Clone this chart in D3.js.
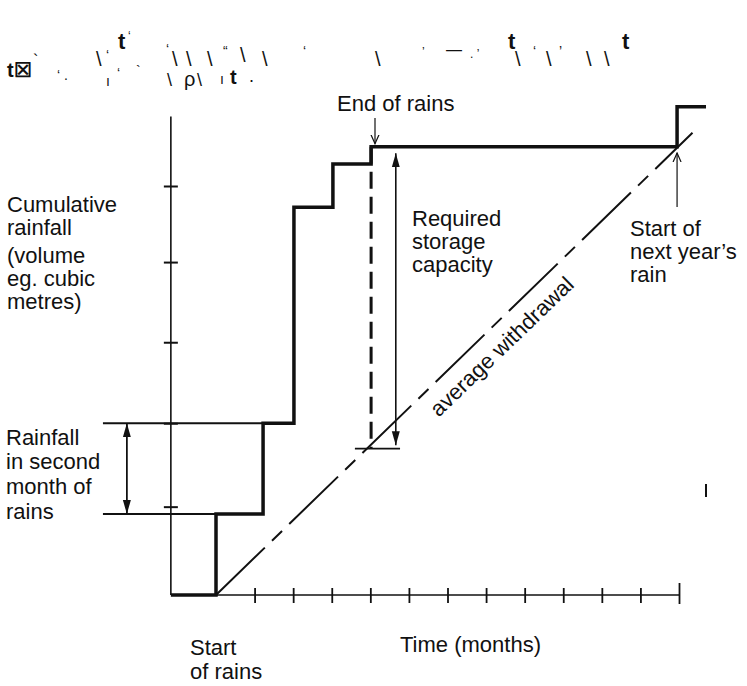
<!DOCTYPE html>
<html>
<head>
<meta charset="utf-8">
<script src="https://cdn.jsdelivr.net/npm/d3@7"></script>
<style>
  body { margin: 0; background: #fff; }
  text { font-family: "Liberation Sans", Arial, sans-serif; fill: #111; }
</style>
</head>
<body>
<div id="chart-area"></div>
<script>

// values (months on x, volume units on y)
var monthTicks = [1, 2, 3, 4, 5, 6, 7, 8, 9, 10, 11, 12];
var yTicks = [1.08, 2.1, 3.09, 4.07, 5];
var stepMonths = [0, 1.22, 2.02, 3.03, 4.02, 11.95];
var cumulative = [0.99, 2.1, 4.74, 5.27, 5.48, 5.97];
var axisMonth = -1.17;
var yAxisTop = 5.85;
var lastMonth = 12.7;
var withdrawalMonths = [0, 12.35];
var withdrawalValues = [0, 5.65];
var endOfRains = 4.02;
var secondMonth = [0.99, 2.1];
var storage = [5.4, 1.83];

var svgWidth = 747;
var svgHeight = 686;

var svg = d3.select("#chart-area")
            .append("svg")
            .attr("width", svgWidth)
            .attr("height", svgHeight);

var x = d3.scaleLinear().domain([0, 12]).range([216, 679]);
var y = d3.scaleLinear().domain([0, 5]).range([595, 186]);

var defs = svg.append("defs");
defs.append("marker")
    .attr("id", "solid")
    .attr("viewBox", "0 -5 14 10")
    .attr("refX", 14).attr("refY", 0)
    .attr("markerWidth", 14).attr("markerHeight", 10)
    .attr("markerUnits", "userSpaceOnUse")
    .attr("orient", "auto")
    .append("path").attr("d", "M0,-4L14,0L0,4Z").attr("fill", "#111");
defs.append("marker")
    .attr("id", "solidStart")
    .attr("viewBox", "0 -5 14 10")
    .attr("refX", 0).attr("refY", 0)
    .attr("markerWidth", 14).attr("markerHeight", 10)
    .attr("markerUnits", "userSpaceOnUse")
    .attr("orient", "auto")
    .append("path").attr("d", "M14,-4L0,0L14,4Z").attr("fill", "#111");
defs.append("marker")
    .attr("id", "open")
    .attr("viewBox", "0 -5 10 10")
    .attr("refX", 9).attr("refY", 0)
    .attr("markerWidth", 10).attr("markerHeight", 10)
    .attr("markerUnits", "userSpaceOnUse")
    .attr("orient", "auto")
    .append("path").attr("d", "M0,-4L9,0L0,4")
    .attr("fill", "none").attr("stroke", "#111").attr("stroke-width", 1.2);

// volume axis
svg.append("line")
    .attr("x1", x(axisMonth)).attr("x2", x(axisMonth))
    .attr("y1", y(0)).attr("y2", y(yAxisTop))
    .attr("stroke", "#111").attr("stroke-width", 1.6);

var yAxisGroup = svg.append("g")
    .attr("transform", "translate(" + (x(axisMonth) + 7) + ",0)")
    .call(d3.axisLeft(y).tickValues(yTicks).tickSize(14).tickFormat(""));
yAxisGroup.select(".domain").remove();
yAxisGroup.selectAll("line").attr("stroke", "#111").attr("stroke-width", 2);

// time axis
svg.append("line")
    .attr("x1", x(0)).attr("x2", x(12))
    .attr("y1", y(0)).attr("y2", y(0))
    .attr("stroke", "#111").attr("stroke-width", 1.6);

var xAxisGroup = svg.append("g")
    .attr("transform", "translate(0," + (y(0) - 7) + ")")
    .call(d3.axisBottom(x).tickValues(monthTicks).tickSize(15).tickFormat(""));
xAxisGroup.select(".domain").remove();
xAxisGroup.selectAll("line")
    .attr("stroke", "#111").attr("stroke-width", 1.8)
    .attr("y1", (d) => d === 12 ? -5 : 0)
    .attr("y2", (d) => d === 12 ? 16 : 15);

// extension lines of the second month of rain
secondMonth.forEach((v, i) => {
    svg.append("line")
        .attr("x1", x(-2.93)).attr("x2", x(stepMonths[i + 1]))
        .attr("y1", y(v)).attr("y2", y(v))
        .attr("stroke", "#111").attr("stroke-width", 2);
});

// cumulative rainfall step curve
var stepPoints = [[axisMonth, 0]];
stepMonths.forEach((m, i) => stepPoints.push([m, cumulative[i]]));
stepPoints.push([lastMonth, cumulative[cumulative.length - 1]]);

var stepLine = d3.line()
    .x((d) => x(d[0]))
    .y((d) => y(d[1]))
    .curve(d3.curveStepAfter);

svg.append("path")
    .datum(stepPoints)
    .attr("d", stepLine)
    .attr("fill", "none")
    .attr("stroke", "#111")
    .attr("stroke-width", 3.5)
    .attr("stroke-linejoin", "miter");

// average withdrawal
svg.append("line")
    .attr("x1", x(withdrawalMonths[0])).attr("y1", y(withdrawalValues[0]))
    .attr("x2", x(withdrawalMonths[1])).attr("y2", y(withdrawalValues[1]))
    .attr("stroke", "#111").attr("stroke-width", 2)
    .attr("stroke-dasharray", "68,10,14,10");

// end of rains dashed drop
svg.append("line")
    .attr("x1", x(endOfRains)).attr("x2", x(endOfRains))
    .attr("y1", y(cumulative[4])).attr("y2", y(storage[1] - 0.04))
    .attr("stroke", "#111").attr("stroke-width", 3)
    .attr("stroke-dasharray", "17,8");

svg.append("line")
    .attr("x1", x(3.6)).attr("x2", x(4.77))
    .attr("y1", y(storage[1] - 0.04)).attr("y2", y(storage[1] - 0.04))
    .attr("stroke", "#111").attr("stroke-width", 1.6);

// required storage double arrow
svg.append("line")
    .attr("x1", x(4.66)).attr("x2", x(4.66))
    .attr("y1", y(storage[1])).attr("y2", y(storage[0]))
    .attr("stroke", "#111").attr("stroke-width", 1.6)
    .attr("marker-start", "url(#solidStart)")
    .attr("marker-end", "url(#solid)");

// rainfall in second month bracket
svg.append("line")
    .attr("x1", x(-2.31)).attr("x2", x(-2.31))
    .attr("y1", y(secondMonth[0])).attr("y2", y(secondMonth[1]))
    .attr("stroke", "#111").attr("stroke-width", 1.8)
    .attr("marker-start", "url(#solidStart)")
    .attr("marker-end", "url(#solid)");

// pointer arrows
svg.append("line")
    .attr("x1", 375).attr("x2", 375)
    .attr("y1", 118).attr("y2", y(cumulative[4]) - 3)
    .attr("stroke", "#111").attr("stroke-width", 1.2)
    .attr("marker-end", "url(#open)");
svg.append("line")
    .attr("x1", x(11.95)).attr("x2", x(11.95))
    .attr("y1", 207).attr("y2", 153)
    .attr("stroke", "#111").attr("stroke-width", 1.2)
    .attr("marker-end", "url(#open)");

// labels
function label(lines, px, baselines) {
    var t = svg.append("text").attr("font-size", "22px");
    lines.forEach((s, i) => {
        t.append("tspan").attr("x", px).attr("y", baselines[i]).text(s);
    });
}
label(["Cumulative", "rainfall", "(volume", "eg. cubic", "metres)"], 7, [212, 235, 263, 286, 309]);
label(["Rainfall", "in second", "month of", "rains"], 6, [445, 469, 494, 519]);
label(["End of rains"], 337, [111]);
label(["Required", "storage", "capacity"], 412, [226, 249, 272]);
label(["Start of", "next year\u2019s", "rain"], 630, [236, 259, 282]);
label(["Start", "of rains"], 190, [655, 679]);
label(["Time (months)"], 400, [652]);

svg.append("text")
    .attr("font-size", "22px")
    .attr("text-anchor", "middle")
    .attr("transform", "translate(507,352) rotate(-44)")
    .text("average withdrawal");

// scanning specks
svg.append("line")
    .attr("x1", 706).attr("x2", 706).attr("y1", 484).attr("y2", 497)
    .attr("stroke", "#111").attr("stroke-width", 2);

var specks = [
    ["t", 118, 49, 22, "bold"], ["t", 508, 49, 22, "bold"], ["t", 622, 49, 22, "bold"],
    ["t\u2612", 7, 77, 20, "bold"], ["\u03c1", 184, 86, 20, "normal"], ["t", 230, 84, 20, "bold"],
    ["\\", 96, 66, 20, "normal"], ["\u2018", 106, 60, 14, "normal"], ["\\", 172, 66, 20, "normal"],
    ["\u2018", 166, 54, 14, "normal"], ["\\", 186, 66, 20, "normal"], ["\\", 207, 66, 20, "normal"],
    ["\u201c", 223, 56, 14, "normal"], ["\\", 240, 62, 20, "normal"], ["\\", 262, 66, 20, "normal"],
    ["\u2018", 303, 56, 14, "normal"], ["\\", 375, 66, 20, "normal"], ["\u2019", 422, 56, 12, "normal"],
    ["\u2014", 446, 55, 16, "normal"], [". \u2019", 470, 58, 12, "normal"], ["\\", 515, 66, 20, "normal"],
    ["\u2018", 533, 56, 14, "normal"], ["\\", 546, 66, 20, "normal"], ["\u2019", 559, 56, 14, "normal"],
    ["\\", 586, 66, 20, "normal"], ["\\", 604, 66, 20, "normal"], ["`", 33, 66, 16, "normal"],
    ["\u2018 .", 57, 80, 14, "normal"], ["\u0131", 106, 86, 14, "normal"], ["\u2018", 117, 78, 14, "normal"],
    ["`", 136, 76, 14, "normal"], ["\\", 167, 86, 18, "normal"], ["\\", 197, 86, 18, "normal"],
    ["\u0131", 220, 84, 14, "normal"], [".", 249, 82, 18, "normal"], ["\u2018", 128, 40, 12, "normal"]
];
svg.append("g").selectAll("text")
    .data(specks)
    .enter()
    .append("text")
    .attr("x", (d) => d[1])
    .attr("y", (d) => d[2])
    .attr("font-size", (d) => d[3] + "px")
    .attr("font-weight", (d) => d[4])
    .text((d) => d[0]);

</script>
</body>
</html>
